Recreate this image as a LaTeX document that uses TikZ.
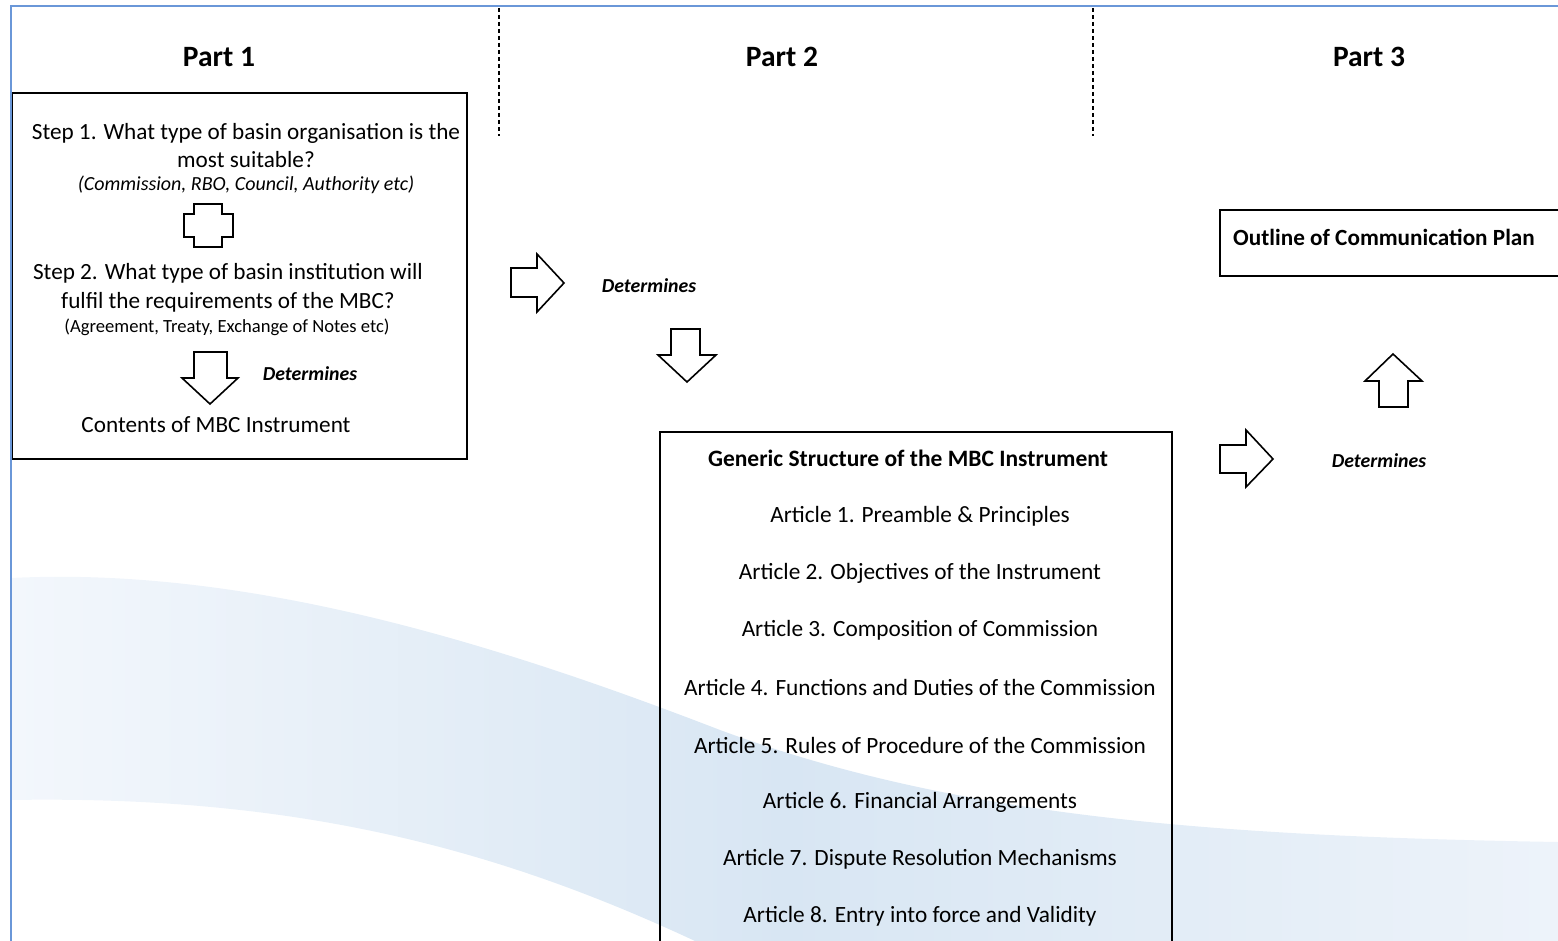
\documentclass[tikz,border=0pt]{standalone}
\usepackage{fontspec}
\setmainfont{Carlito}
\usetikzlibrary{positioning}

\definecolor{frameblue}{HTML}{6A97D8}
\definecolor{waveleft}{HTML}{F3F7FC}
\definecolor{wavemid}{HTML}{D8E6F3}
\definecolor{waveright}{HTML}{EDF3FA}

\begin{document}
\begin{tikzpicture}
[x=1pt,y=-1pt,%
  every node/.style={inner sep=0pt},%
  parthead/.style={font=\fontsize{29.5}{34}\selectfont\bfseries},%
  body/.style={font=\fontsize{23.2}{28.5}\selectfont,align=center},%
  note/.style={font=\fontsize{18.6}{22}\selectfont},%
  determ/.style={font=\fontsize{19.8}{22}\selectfont\bfseries\itshape},%
  article/.style={font=\fontsize{23.3}{26}\selectfont},%
  boxline/.style={draw,line width=1.8pt},%
  blockarrow/.style={draw,line width=1.6pt,fill=white,line join=miter},%
  divider/.style={line width=1.3pt,dash pattern=on 4.5pt off 2.5pt}]
\useasboundingbox (0,0) rectangle (1558,941);

% background wave
\shade[left color=waveleft,right color=waveright,middle color=wavemid]
  (11,578) .. controls (250,566) and (500,645) .. (720,730)
  .. controls (950,815) and (1200,836) .. (1558,842)
  -- (1558,941) -- (695,941)
  .. controls (500,850) and (300,795) .. (11,800) -- cycle;

% frame
\draw[frameblue,line width=1.5pt] (11,941) -- (11,6) -- (1558,6);
\draw[divider] (499,8) -- (499,136);
\draw[divider] (1093,8) -- (1093,136);

% part headings
\node[parthead] (part1) at (219,57) {Part 1};
\node[parthead] (part2) at (782,57) {Part 2};
\node[parthead] (part3) at (1369,57) {Part 3};

% part 1
\draw[boxline] (12.5,93) rectangle (467,459);
\node[body] (step1) at (246,145.5) {Step 1. What type of basin organisation is the\\most suitable?};
\node[note,font=\fontsize{20}{22}\selectfont\itshape] (step1eg) at (246,185) {(Commission, RBO, Council, Authority etc)};
\draw[blockarrow] (194,204) -- (222,204) -- (222,214) -- (233,214) -- (233,237) -- (222,237)
  -- (222,247) -- (194,247) -- (194,237) -- (184,237) -- (184,214) -- (194,214) -- cycle;
\node[body] (step2) at (228,288) {Step 2. What type of basin institution will\\fulfil the requirements of the MBC?};
\node[note] (step2eg) at (227,327) {(Agreement, Treaty, Exchange of Notes etc)};
\draw[blockarrow] (194,352) -- (227,352) -- (227,378) -- (238,378) -- (210,404) -- (182,378) -- (194,378) -- cycle;
\node[determ] (det1) at (310,374) {Determines};
\node[body] (contents) at (216,425) {Contents of MBC Instrument};

% part 2
\draw[blockarrow] (511,268) -- (537,268) -- (537,254) -- (564,283) -- (537,312) -- (537,297) -- (511,297) -- cycle;
\node[determ] (det2) at (649,286) {Determines};
\draw[blockarrow] (671,329) -- (700,329) -- (700,355) -- (716,355) -- (687,382) -- (658,355) -- (671,355) -- cycle;
\draw[boxline] (660,941) -- (660,432) -- (1172,432) -- (1172,941);
\node[article,font=\fontsize{23.5}{26}\selectfont\bfseries] (generic) at (908,458) {Generic Structure of the MBC Instrument};
\foreach \txt [count=\i] in {{Preamble \& Principles},{Objectives of the Instrument},%
  {Composition of Commission},{Functions and Duties of the Commission},%
  {Rules of Procedure of the Commission},{Financial Arrangements},%
  {Dispute Resolution Mechanisms},{Entry into force and Validity}}
  \node[article] (art\i) at (920,459+57.2*\i) {Article \i. \txt};

% part 3
\draw[blockarrow] (1220,445) -- (1246,445) -- (1246,430) -- (1273,459) -- (1246,487) -- (1246,473) -- (1220,473) -- cycle;
\node[determ] (det3) at (1379,461) {Determines};
\draw[blockarrow] (1379,407) -- (1408,407) -- (1408,381) -- (1422,381) -- (1393,354) -- (1365,381) -- (1379,381) -- cycle;
\draw[boxline] (1558,210) -- (1220,210) -- (1220,276) -- (1558,276);
\node[article,font=\fontsize{23.2}{26}\selectfont\bfseries,anchor=west] (plan) at (1233,237) {Outline of Communication Plan};
\end{tikzpicture}
\end{document}
